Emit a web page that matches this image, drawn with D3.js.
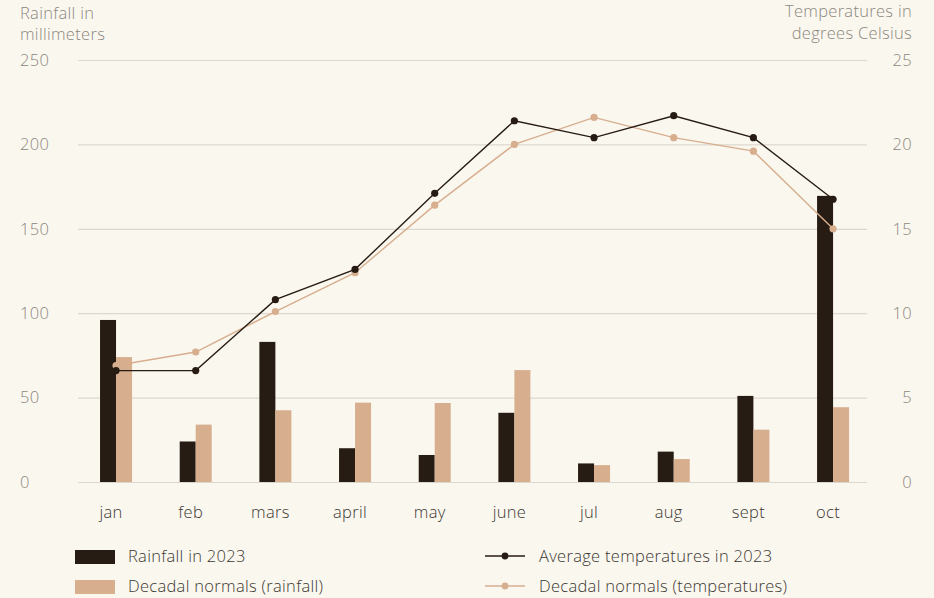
<!DOCTYPE html>
<html>
<head>
<meta charset="utf-8">
<script src="https://cdn.jsdelivr.net/npm/d3@7"></script>
<style>
  body { margin: 0; background: #faf7ef; }
  svg { display: block; font-family: "Open Sans", Lato, sans-serif; font-weight: 300; letter-spacing: 0.3px; }
</style>
</head>
<body>
<div id="chart"></div>
<script>
// chart data
var months = ["jan", "feb", "mars", "april", "may", "june", "jul", "aug", "sept", "oct"];
var rain2023 = [96, 24, 83, 20, 16, 41, 11, 18, 51, 169.5];
var rainNormals = [74, 34, 42.5, 47, 46.8, 66.3, 10, 13.6, 31, 44.3];
var temp2023 = [6.6, 6.6, 10.8, 12.6, 17.1, 21.4, 20.4, 21.7, 20.4, 16.75];
var tempNormals = [6.9, 7.7, 10.1, 12.4, 16.4, 20.0, 21.6, 20.4, 19.6, 15.0];
var rainTicks = [0, 50, 100, 150, 200, 250];
var tempTicks = [0, 5, 10, 15, 20, 25];

var dark = "#271c14", light = "#d7ae8e";
var grey = "#8c877e", ink = "#3b3731";
var fs = 16.5;

var width = 934, height = 598;

var svg = d3.select("#chart").append("svg")
  .attr("width", width)
  .attr("height", height);

svg.append("rect").attr("width", width).attr("height", height).attr("fill", "#faf7ef");

// scales
var x = d3.scaleBand().domain(months).range([76.2, 872.9]);
var yRain = d3.scaleLinear().domain([0, 250]).range([482, 60]);
var yTemp = d3.scaleLinear().domain([0, 25]).range([482, 60]);

// gridlines + left axis labels
var leftAxis = d3.axisLeft(yRain).tickValues(rainTicks).tickSize(0).tickPadding(0);
var gl = svg.append("g").call(leftAxis)
  .attr("font-family", null).attr("font-size", null);
gl.select(".domain").remove();
gl.selectAll(".tick text")
  .attr("x", 20).attr("text-anchor", "start")
  .attr("fill", grey).attr("font-size", fs);
gl.selectAll(".tick").append("line")
  .attr("x1", 78).attr("x2", 867)
  .attr("stroke", "#ddd8cf").attr("stroke-width", 1.2);

// right axis labels
var rightAxis = d3.axisRight(yTemp).tickValues(tempTicks).tickSize(0).tickPadding(0);
var gr = svg.append("g").call(rightAxis)
  .attr("font-family", null).attr("font-size", null);
gr.select(".domain").remove();
gr.selectAll(".tick text")
  .attr("x", 912).attr("text-anchor", "end")
  .attr("fill", grey).attr("font-size", fs);

// x axis labels (sit a little left of the band centre)
var bottomAxis = d3.axisBottom(x).tickSize(0).tickPadding(0);
var gb = svg.append("g").attr("transform", "translate(-5,506)").call(bottomAxis)
  .attr("font-family", null).attr("font-size", null);
gb.select(".domain").remove();
gb.selectAll(".tick text")
  .attr("fill", ink).attr("font-size", fs);

// axis titles
svg.append("text").attr("x", 20).attr("y", 19).attr("fill", grey).attr("font-size", fs).text("Rainfall in");
svg.append("text").attr("x", 20).attr("y", 40).attr("fill", grey).attr("font-size", fs).text("millimeters");
svg.append("text").attr("x", 912).attr("y", 17).attr("text-anchor", "end").attr("fill", grey).attr("font-size", fs).text("Temperatures in");
svg.append("text").attr("x", 912).attr("y", 39).attr("text-anchor", "end").attr("fill", grey).attr("font-size", fs).text("degrees Celsius");

// bars
var barW = 16;
svg.append("g").selectAll("rect")
  .data(months).enter().append("rect")
  .attr("x", (d, i) => x(d) + x.bandwidth() / 2 - barW)
  .attr("y", (d, i) => yRain(rain2023[i]))
  .attr("width", barW)
  .attr("height", (d, i) => yRain(0) - yRain(rain2023[i]))
  .attr("fill", dark);

svg.append("g").selectAll("rect")
  .data(months).enter().append("rect")
  .attr("x", (d, i) => x(d) + x.bandwidth() / 2)
  .attr("y", (d, i) => yRain(rainNormals[i]))
  .attr("width", barW)
  .attr("height", (d, i) => yRain(0) - yRain(rainNormals[i]))
  .attr("fill", light);

// lines
function drawLine(values, color) {
  var line = d3.line()
    .x((d, i) => x(months[i]) + x.bandwidth() / 2)
    .y(d => yTemp(d));
  svg.append("path").datum(values)
    .attr("d", line).attr("fill", "none")
    .attr("stroke", color).attr("stroke-width", 1.4);
  svg.append("g").selectAll("circle")
    .data(values).enter().append("circle")
    .attr("cx", (d, i) => x(months[i]) + x.bandwidth() / 2)
    .attr("cy", d => yTemp(d))
    .attr("r", 3.6)
    .attr("fill", color);
}
drawLine(tempNormals, light);
drawLine(temp2023, dark);

// legend
var legend = svg.append("g");
legend.append("rect").attr("x", 75).attr("y", 550).attr("width", 40).attr("height", 14).attr("fill", dark);
legend.append("rect").attr("x", 75).attr("y", 580).attr("width", 40).attr("height", 14).attr("fill", light);
legend.append("text").attr("x", 128).attr("y", 562).attr("fill", ink).attr("font-size", fs).text("Rainfall in 2023");
legend.append("text").attr("x", 128).attr("y", 592).attr("fill", ink).attr("font-size", fs).text("Decadal normals (rainfall)");

[[dark, 556, "Average temperatures in 2023"], [light, 586, "Decadal normals (temperatures)"]].forEach(function(l) {
  legend.append("line").attr("x1", 485).attr("x2", 525).attr("y1", l[1]).attr("y2", l[1])
    .attr("stroke", l[0]).attr("stroke-width", 1.4);
  legend.append("circle").attr("cx", 505).attr("cy", l[1]).attr("r", 3.4).attr("fill", l[0]);
  legend.append("text").attr("x", 539).attr("y", l[1] + 6).attr("fill", ink).attr("font-size", fs).text(l[2]);
});
</script>
</body>
</html>
